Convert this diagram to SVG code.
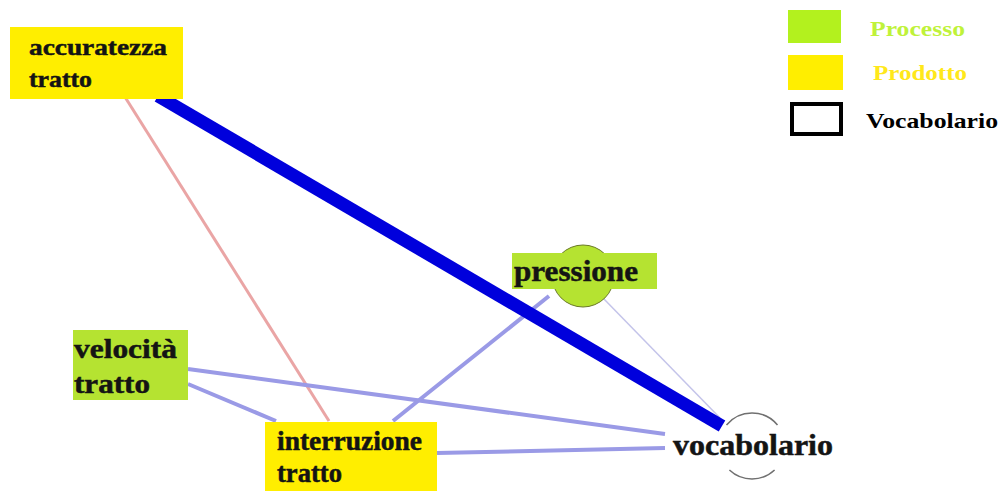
<svg xmlns="http://www.w3.org/2000/svg" width="1005" height="491" viewBox="0 0 1005 491">
  <style>
    .lbl { font-family: "Liberation Serif", "Times New Roman", serif; font-weight: bold; fill: #141414; stroke: #141414; stroke-width: 0.5; }
    .proc { fill: #b5e331; }
    .prod { fill: #ffee00; }
    .edge { fill: none; stroke-linecap: butt; }
    .weak { stroke: #9a9ae6; stroke-width: 4; }
    .key { font-family: "Liberation Serif", "Times New Roman", serif; font-weight: bold; font-size: 22px; }
  </style>

  <rect width="1005" height="491" fill="#ffffff"/>

  <!-- connectors -->
  <g id="connectors" class="edge">
    <line x1="125" y1="97" x2="329" y2="421" stroke="#eaa5a5" stroke-width="3"/>
    <line class="weak" x1="188" y1="369" x2="665" y2="434"/>
    <line class="weak" x1="188" y1="384" x2="276" y2="421"/>
    <line class="weak" x1="393" y1="421" x2="549" y2="296"/>
    <line class="weak" x1="437" y1="453" x2="665" y2="448"/>
    <line x1="603" y1="298" x2="720" y2="418" stroke="#c4c4ea" stroke-width="1.5"/>
    <line x1="158" y1="96" x2="722" y2="426" stroke="#0000dc" stroke-width="13"/>
  </g>

  <!-- accuratezza tratto -->
  <g id="node-accuratezza">
    <rect class="prod" x="10" y="27" width="173" height="72"/>
    <text class="lbl" x="29" y="55" font-size="24" textLength="138" lengthAdjust="spacingAndGlyphs">accuratezza</text>
    <text class="lbl" x="29" y="87" font-size="24" textLength="63" lengthAdjust="spacingAndGlyphs">tratto</text>
  </g>

  <!-- pressione -->
  <g id="node-pressione">
    <circle class="proc" cx="583" cy="276" r="31" stroke="#6b7a2a" stroke-width="1"/>
    <rect class="proc" x="512" y="253" width="145" height="36"/>
    <text class="lbl" x="514" y="281" font-size="30" textLength="124" lengthAdjust="spacingAndGlyphs">pressione</text>
  </g>

  <!-- velocità tratto -->
  <g id="node-velocita">
    <rect class="proc" x="73" y="330" width="115" height="70"/>
    <text class="lbl" x="74" y="358" font-size="27" textLength="103" lengthAdjust="spacingAndGlyphs">velocità</text>
    <text class="lbl" x="74" y="393" font-size="27" textLength="76" lengthAdjust="spacingAndGlyphs">tratto</text>
  </g>

  <!-- interruzione tratto -->
  <g id="node-interruzione">
    <rect class="prod" x="265" y="422" width="172" height="69"/>
    <text class="lbl" x="277" y="450" font-size="27" textLength="145" lengthAdjust="spacingAndGlyphs">interruzione</text>
    <text class="lbl" x="277" y="482" font-size="27" textLength="65" lengthAdjust="spacingAndGlyphs">tratto</text>
  </g>

  <!-- vocabolario -->
  <g id="node-vocabolario">
    <path d="M 726.5 425 A 33 33 0 0 1 777.5 425" fill="none" stroke="#707070" stroke-width="1.5"/>
    <path d="M 729.4 470 A 33 33 0 0 0 774.6 470" fill="none" stroke="#707070" stroke-width="1.5"/>
    <text class="lbl" x="673" y="455" font-size="30" textLength="160" lengthAdjust="spacingAndGlyphs">vocabolario</text>
  </g>

  <!-- legend -->
  <g id="legend">
    <rect x="788" y="10" width="53" height="33" fill="#b3f11e"/>
    <text class="key" x="870" y="36" fill="#bff23a" textLength="95" lengthAdjust="spacingAndGlyphs">Processo</text>
    <rect x="788" y="55" width="55" height="35" fill="#ffee00"/>
    <text class="key" x="873" y="80" fill="#ffe81a" textLength="94" lengthAdjust="spacingAndGlyphs">Prodotto</text>
    <rect x="792" y="104" width="49" height="30" fill="#ffffff" stroke="#000000" stroke-width="4"/>
    <text class="key" x="866" y="128" fill="#000000" textLength="132" lengthAdjust="spacingAndGlyphs">Vocabolario</text>
  </g>
</svg>
